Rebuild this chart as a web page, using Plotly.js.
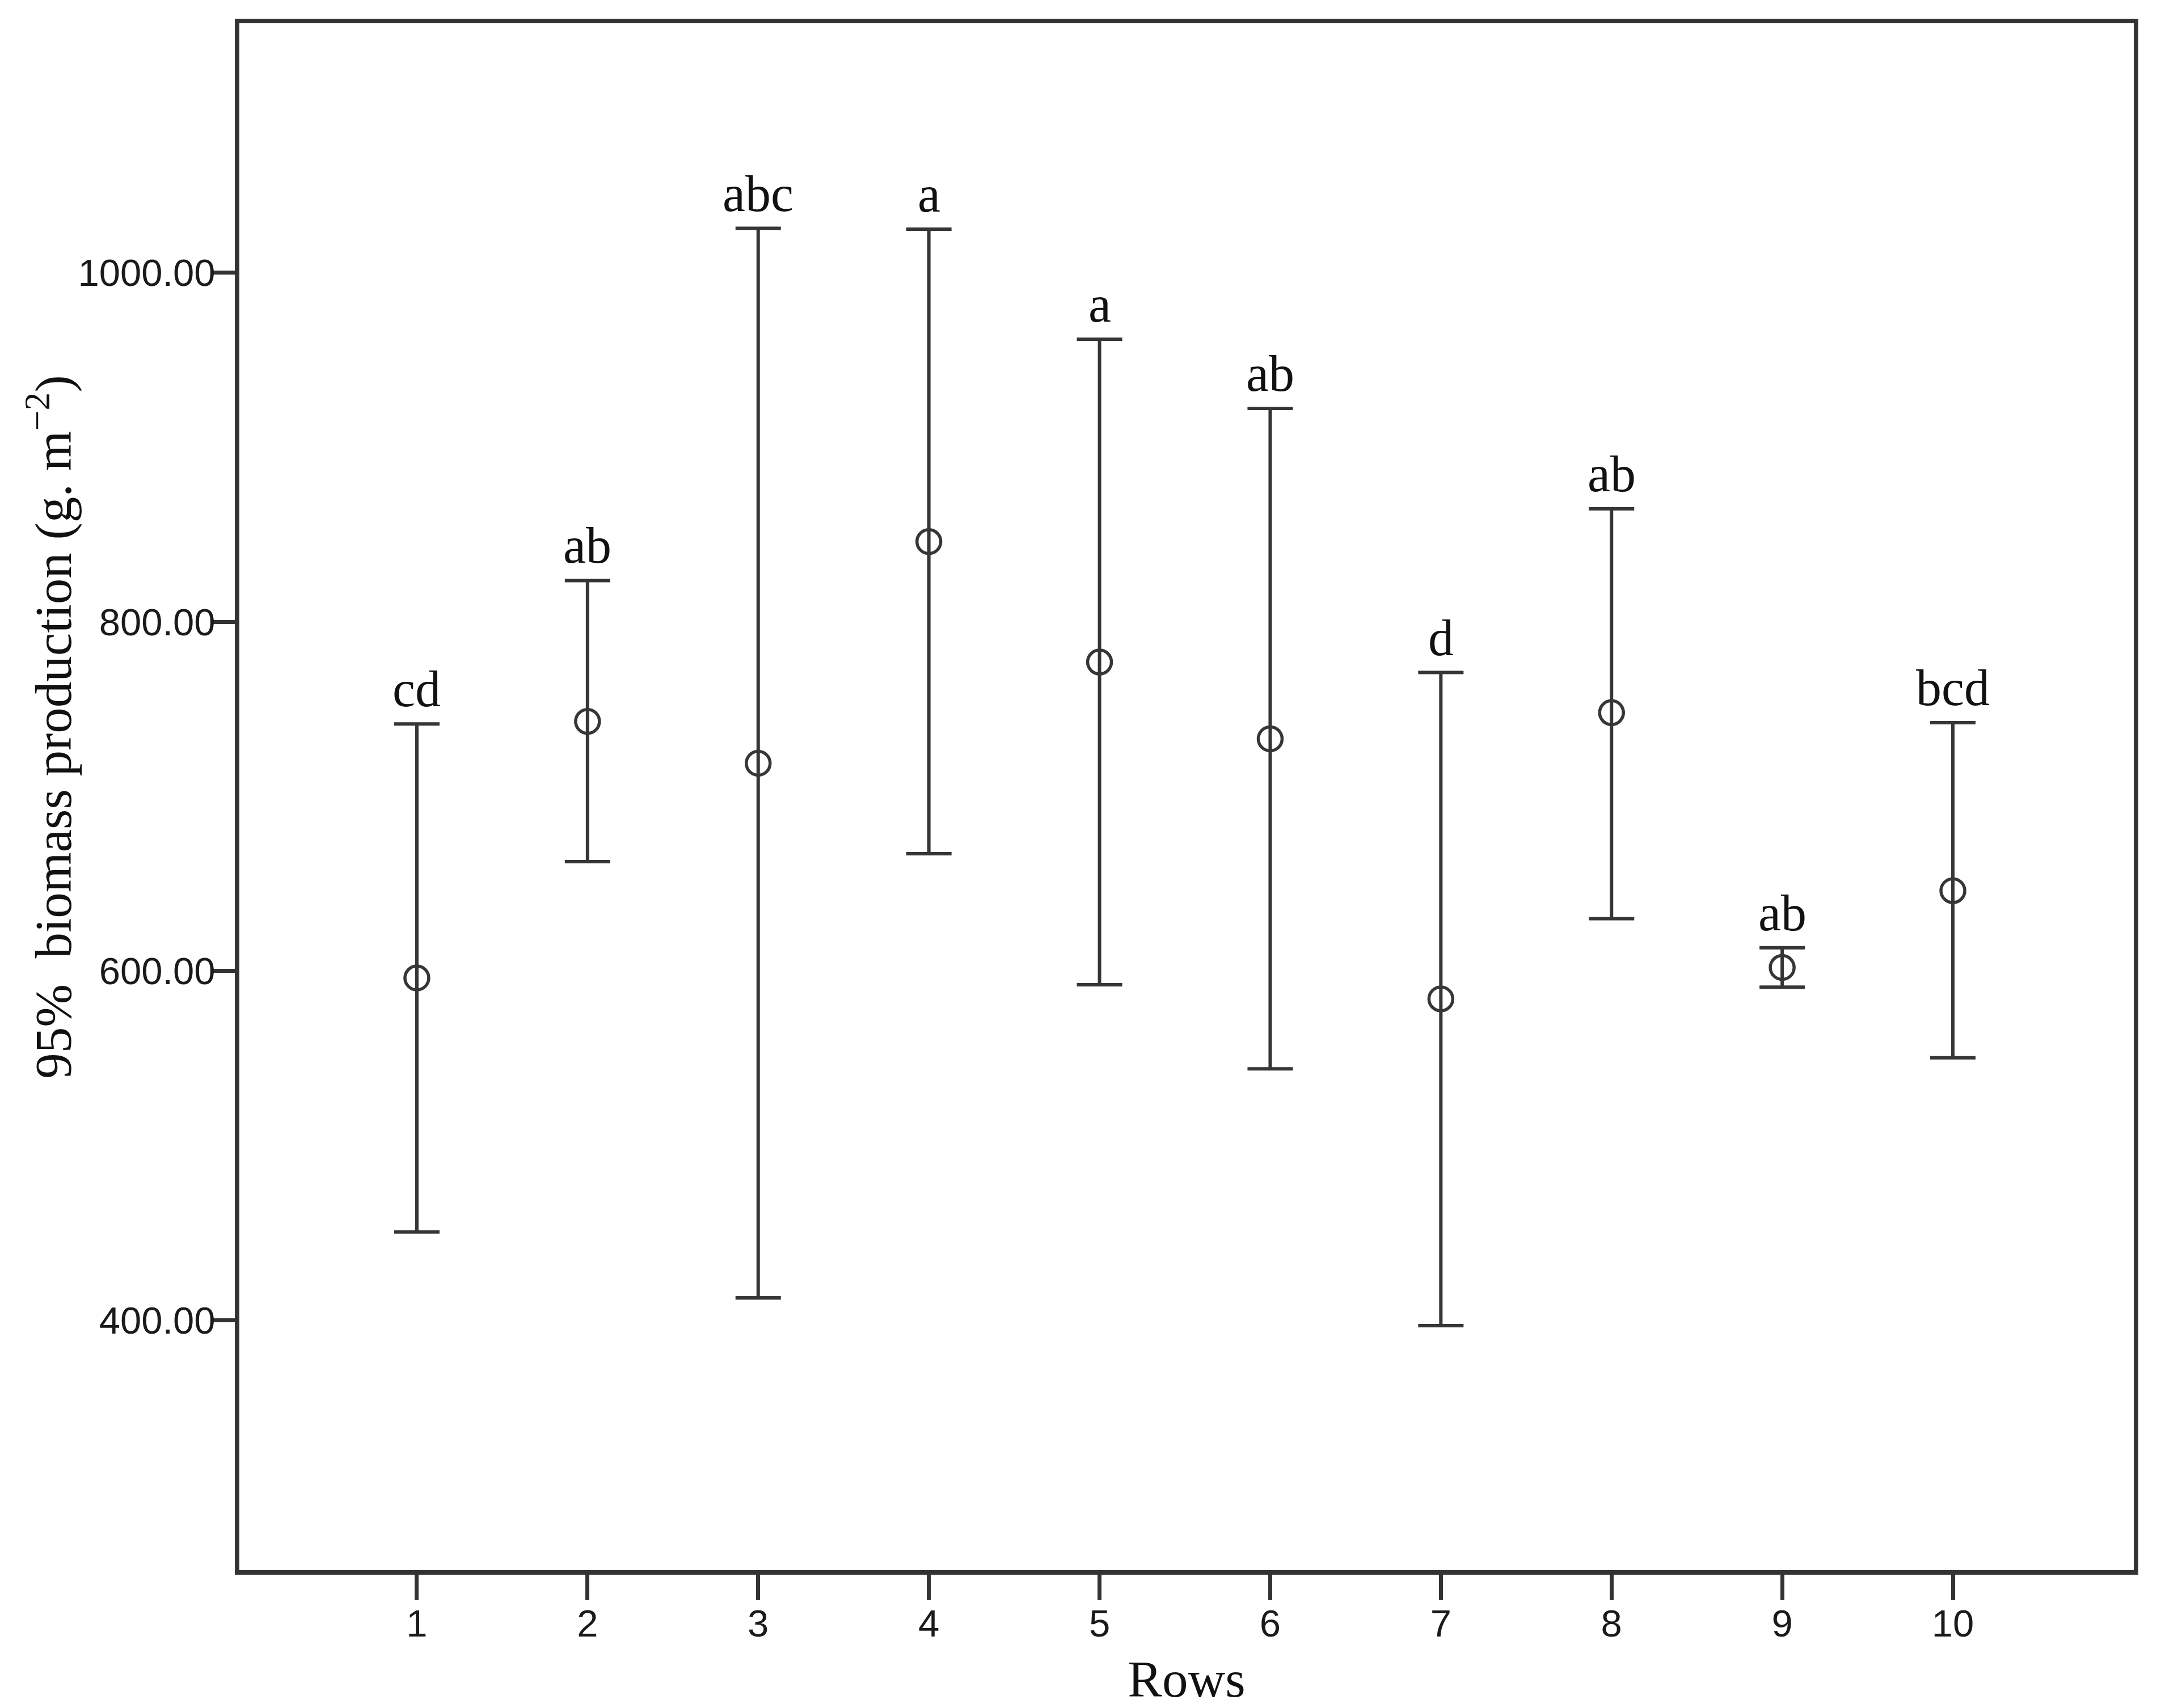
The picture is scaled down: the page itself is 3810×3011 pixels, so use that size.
<!DOCTYPE html>
<html>
<head>
<meta charset="utf-8">
<script src="https://cdn.plot.ly/plotly-3.0.1.min.js"></script>
<style>html,body{margin:0;padding:0;background:#fff;}#chart{width:3810px;height:3011px;}</style>
</head>
<body>
<div id="chart"></div>
<script>
// Data (means with 95% confidence interval bounds)
const rows = [1, 2, 3, 4, 5, 6, 7, 8, 9, 10];
const means = [596, 743, 719, 846, 777, 733, 584, 748, 602, 646];
const upper95 = [741.5, 823.7, 1025.5, 1025, 962, 922.3, 771, 864.8, 613.3, 742.3];
const lower95 = [450.5, 662.6, 412.7, 667.2, 592.1, 543.9, 396.8, 630, 590.7, 550.3];
const letters = ['cd', 'ab', 'abc', 'a', 'a', 'ab', 'd', 'ab', 'ab', 'bcd'];
const yTicks = [400, 600, 800, 1000];

const ink = '#363636';
const serif = 'Liberation Serif, Times New Roman, serif';
const sans = 'Liberation Sans, Arial, sans-serif';

const trace = {
  type: 'scatter',
  mode: 'markers',
  x: rows,
  y: means,
  marker: {symbol: 'circle-open', size: 42, color: ink, line: {width: 5.5, color: ink}},
  error_y: {
    type: 'data',
    symmetric: false,
    array: upper95.map((u, i) => u - means[i]),
    arrayminus: lower95.map((l, i) => means[i] - l),
    color: ink,
    thickness: 6,
    width: 40
  },
  hoverinfo: 'x+y'
};

const annotations = letters.map((t, i) => ({
  x: rows[i], y: upper95[i], xref: 'x', yref: 'y',
  text: t, showarrow: false, yanchor: 'bottom', yshift: 10,
  font: {family: serif, size: 90, color: '#111'}
}));

annotations.push({
  xref: 'paper', yref: 'paper', x: -0.1, y: 0.545,
  text: '95%  biomass production (g. m<sup>−2</sup>)',
  textangle: -90, showarrow: false, xanchor: 'center', yanchor: 'middle',
  font: {family: serif, size: 91, color: '#111'}
});

const axisCommon = {
  showgrid: false, zeroline: false, showline: true, linewidth: 8, linecolor: '#333',
  mirror: true, ticks: 'outside', tickwidth: 7, tickcolor: '#333',
  tickfont: {family: sans, size: 67, color: '#1a1a1a'}
};

const layout = {
  width: 3810, height: 3011,
  margin: {l: 422, r: 48, t: 41, b: 243},
  paper_bgcolor: '#fff', plot_bgcolor: '#fff',
  showlegend: false,
  xaxis: Object.assign({}, axisCommon, {
    range: [-0.04, 11.06], tickvals: rows, ticktext: rows.map(String), ticklen: 45,
    ticklabelstandoff: -16,
    title: {text: 'Rows', font: {family: serif, size: 91, color: '#111'}, standoff: 36}
  }),
  yaxis: Object.assign({}, axisCommon, {
    range: [256.7, 1143], tickvals: yTicks, ticktext: yTicks.map(v => v.toFixed(2)), ticklen: 40,
    ticklabelstandoff: -19
  }),
  annotations: annotations
};

Plotly.newPlot('chart', [trace], layout, {displayModeBar: false, staticPlot: true});
</script>
</body>
</html>
